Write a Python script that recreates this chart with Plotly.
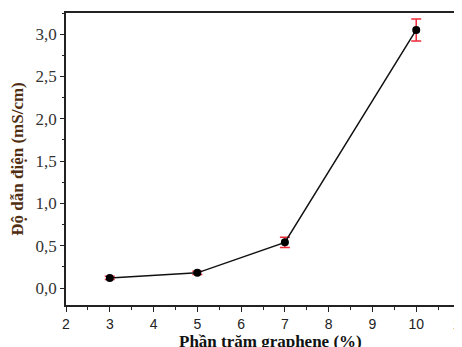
import plotly.graph_objects as go

graphene_pct = [3, 5, 7, 10]
conductivity = [0.12, 0.18, 0.54, 3.05]
conductivity_err = [0.02, 0.02, 0.06, 0.13]

x_ticks = [2, 3, 4, 5, 6, 7, 8, 9, 10, 11]
y_ticks = [0.0, 0.5, 1.0, 1.5, 2.0, 2.5, 3.0]

fig = go.Figure()
fig.add_trace(go.Scatter(
    x=graphene_pct, y=conductivity,
    mode="lines+markers",
    line=dict(color="#111111", width=1.5),
    marker=dict(color="black", size=8),
    error_y=dict(type="data", array=conductivity_err, visible=True,
                 color="#ee2a3a", thickness=1.5, width=5),
    showlegend=False,
))

# page body has an 8px margin, so the figure is sized/offset to compensate
fig.update_layout(
    width=454, height=339,
    margin=dict(l=58, r=2, t=5, b=42, autoexpand=False),
    paper_bgcolor="white", plot_bgcolor="white",
    separators=",.",
)
fig.update_xaxes(
    range=[2, 11], tickvals=x_ticks, ticklabeloverflow="allow",
    showline=True, linecolor="#222", linewidth=1.5, mirror=True,
    ticks="outside", ticklen=5, tickwidth=1.2, tickcolor="#222",
    minor=dict(dtick=0.5, ticks="outside", ticklen=3, tickcolor="#222"),
    showgrid=False, zeroline=False,
    tickfont=dict(family="Liberation Sans, Arial", size=14, color="#222"),
)
fig.add_annotation(
    text="<b>Phần trăm graphene (%)</b>",
    xref="paper", yref="paper", x=0.52, y=-0.085,
    xanchor="center", yanchor="top", showarrow=False,
    font=dict(family="Liberation Serif, Times New Roman", size=17, color="#111"),
)
fig.update_yaxes(
    range=[-0.2, 3.25], tickvals=y_ticks, tickformat=".1f",
    showline=True, linecolor="#222", linewidth=1.5, mirror=True,
    ticks="outside", ticklen=4, tickwidth=1.2, tickcolor="#222",
    minor=dict(dtick=0.25, tick0=0, ticks="outside", ticklen=2, tickcolor="#222"),
    showgrid=False, zeroline=False,
    tickfont=dict(family="Liberation Serif, Times New Roman", size=17, color="#333"),
    title=dict(text="<b>Độ dẫn điện (mS/cm)</b>", standoff=8,
               font=dict(family="Liberation Serif, Times New Roman", size=17, color="#4f2e12")),
)

fig.write_html("out.html")
